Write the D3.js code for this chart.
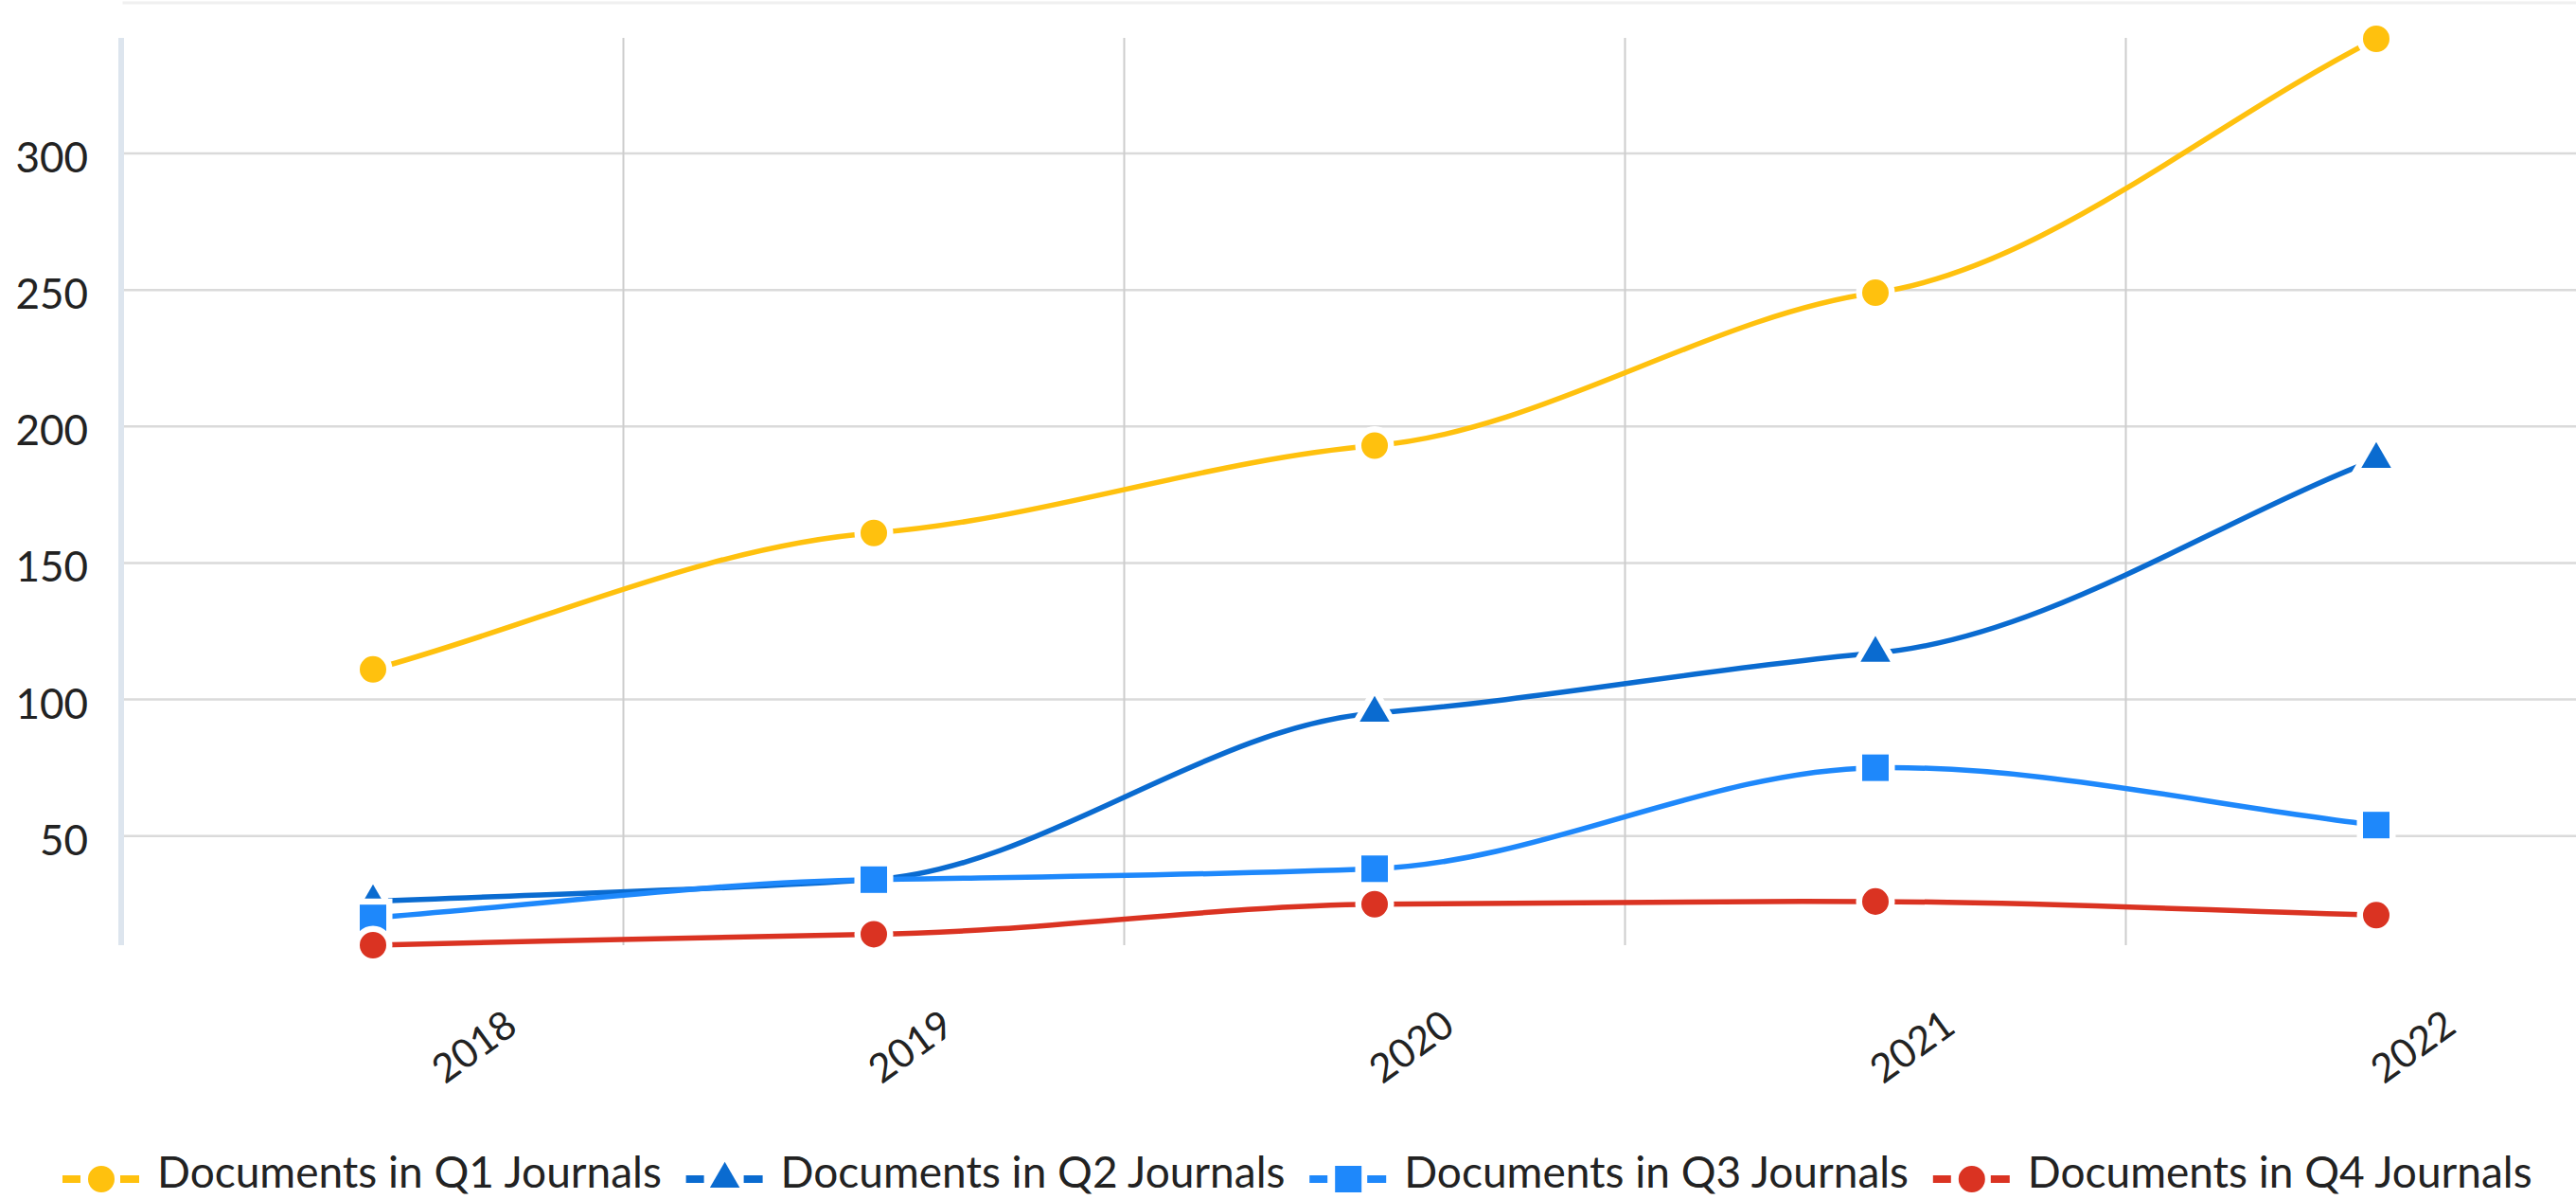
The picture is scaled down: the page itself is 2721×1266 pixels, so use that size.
<!DOCTYPE html>
<html>
<head>
<meta charset="utf-8">
<script src="https://cdn.jsdelivr.net/npm/d3@7"></script>
<style>
  html, body { margin: 0; padding: 0; background: #ffffff; }
  svg { display: block; font-family: Lato, "Open Sans", sans-serif; }
</style>
</head>
<body>
<svg id="chart" width="2721" height="1266"></svg>
<script>

// values
var years = [ "2018", "2019", "2020", "2021", "2022" ];
var q1Docs = [ 111, 161, 193, 249, 342 ];
var q2Docs = [ 26, 34, 95, 117, 188 ];
var q3Docs = [ 20, 34, 38, 75, 54 ];
var q4Docs = [ 10, 14, 25, 26, 21 ];
var yTicks = [ 50, 100, 150, 200, 250, 300 ];
var seriesNames = [ "Documents in Q1 Journals", "Documents in Q2 Journals",
                    "Documents in Q3 Journals", "Documents in Q4 Journals" ];

var colors = [ "#ffc10e", "#0a6bd0", "#1e88fb", "#da3322" ];
var shapes = [ d3.symbolCircle, d3.symbolTriangle, d3.symbolSquare, d3.symbolCircle ];
var sizes  = [ 616, 430, 784, 616 ];

var series = [ q1Docs, q2Docs, q3Docs, q4Docs ].map( function( vals, i ) {
    return { name: seriesNames[i], color: colors[i], shape: shapes[i], size: sizes[i],
             values: vals.map( function( v, j ) { return { year: years[j], value: v }; }) };
});

// soft spline: flattened tangents at inner points, chord slope at the ends
var SMOOTH = 0.35;
function SoftCurve( context ) { this._context = context; }
SoftCurve.prototype = {
    areaStart: function() {}, areaEnd: function() {},
    lineStart: function() { this._pts = []; },
    point: function( x, y ) { this._pts.push( [ x, y ] ); },
    lineEnd: function() {
        var p = this._pts, n = p.length, ctx = this._context, m = [];
        if ( !n ) return;
        for ( var i = 0; i < n; i++ ) {
            if ( n == 1 ) { m.push( 0 ); }
            else if ( i == 0 ) { m.push( ( p[1][1] - p[0][1] ) / ( p[1][0] - p[0][0] ) ); }
            else if ( i == n - 1 ) { m.push( ( p[i][1] - p[i-1][1] ) / ( p[i][0] - p[i-1][0] ) ); }
            else { m.push( SMOOTH * ( p[i+1][1] - p[i-1][1] ) / ( p[i+1][0] - p[i-1][0] ) ); }
        }
        ctx.moveTo( p[0][0], p[0][1] );
        for ( var j = 0; j < n - 1; j++ ) {
            var dx = ( p[j+1][0] - p[j][0] ) / 3;
            ctx.bezierCurveTo( p[j][0] + dx, p[j][1] + m[j] * dx,
                               p[j+1][0] - dx, p[j+1][1] - m[j+1] * dx,
                               p[j+1][0], p[j+1][1] );
        }
    }
};
var softCurve = function( context ) { return new SoftCurve( context ); };

var svg = d3.select( "#chart" );
var plotLeft = 129.5, plotTop = 41, plotBottom = 998;
var band = 529;

var x = d3.scaleBand()
    .domain( years )
    .range( [ plotLeft, plotLeft + band * years.length ] )
    .padding( 0 );
var y = d3.scaleLinear()
    .domain( [ d3.min( q4Docs ), d3.max( q1Docs ) ] )
    .range( [ plotBottom, plotTop ] );
var cx = function( yr ) { return x( yr ) + x.bandwidth() / 2; };

// faint frame line at the very top
svg.append( "line" )
    .attr( "x1", plotLeft ).attr( "x2", 2721 )
    .attr( "y1", 3 ).attr( "y2", 3 )
    .attr( "stroke", "#f0f0f0" ).attr( "stroke-width", 3 );

// horizontal grid
svg.append( "g" )
    .selectAll( "line" )
    .data( yTicks )
    .join( "line" )
    .attr( "x1", plotLeft ).attr( "x2", 2721 )
    .attr( "y1", function( d ) { return y( d ); })
    .attr( "y2", function( d ) { return y( d ); })
    .attr( "stroke", "#dadada" )
    .attr( "stroke-width", 2.5 );

// vertical grid on band boundaries
svg.append( "g" )
    .selectAll( "line" )
    .data( years.slice( 1 ) )
    .join( "line" )
    .attr( "x1", function( d ) { return x( d ); })
    .attr( "x2", function( d ) { return x( d ); })
    .attr( "y1", plotTop - 1 ).attr( "y2", plotBottom )
    .attr( "stroke", "#cdcdcd" )
    .attr( "stroke-width", 2 );

// y axis line
svg.append( "line" )
    .attr( "x1", 128 ).attr( "x2", 128 )
    .attr( "y1", plotTop - 1 ).attr( "y2", plotBottom )
    .attr( "stroke", "#dde5ee" )
    .attr( "stroke-width", 6 );

// y labels
svg.append( "g" )
    .selectAll( "text" )
    .data( yTicks )
    .join( "text" )
    .text( function( d ) { return d; })
    .attr( "x", 93 )
    .attr( "y", function( d ) { return y( d ) + 3; })
    .attr( "text-anchor", "end" )
    .attr( "dominant-baseline", "central" )
    .style( "font-size", "44px" )
    .style( "fill", "#222" );

// x labels, rotated; the first one sits a bit further right
svg.append( "g" )
    .selectAll( "text" )
    .data( years )
    .join( "text" )
    .text( function( d ) { return d; })
    .attr( "transform", function( d, i ) {
        var shift = i == 0 ? 106 : 38;
        return "translate(" + ( cx( d ) + shift ) + ",1104) rotate(-36)";
    })
    .attr( "text-anchor", "middle" )
    .attr( "dominant-baseline", "central" )
    .style( "font-size", "42px" )
    .style( "fill", "#222" );

var line = d3.line()
    .x( function( d ) { return cx( d.year ); })
    .y( function( d ) { return y( d.value ); })
    .curve( softCurve );

series.forEach( function( s ) {
    var g = svg.append( "g" );
    g.append( "path" )
        .attr( "d", line( s.values ) )
        .attr( "fill", "none" )
        .attr( "stroke", s.color )
        .attr( "stroke-width", 5.5 );
    g.selectAll( "path.mark" )
        .data( s.values )
        .join( "path" )
        .attr( "class", "mark" )
        .attr( "d", d3.symbol( s.shape, s.size ) )
        .attr( "transform", function( d ) { return "translate(" + cx( d.year ) + "," + y( d.value ) + ")"; })
        .attr( "fill", s.color )
        .attr( "stroke", "#ffffff" )
        .attr( "stroke-width", 13 )
        .attr( "paint-order", "stroke" );
});

// legend
var legendY = 1245, pitch = 658.6;
var items = svg.append( "g" )
    .selectAll( "g" )
    .data( series )
    .join( "g" )
    .attr( "transform", function( d, i ) { return "translate(" + ( 66 + i * pitch ) + "," + legendY + ")"; });
items.append( "line" )
    .attr( "x1", 0 ).attr( "x2", 19 )
    .attr( "stroke", function( d ) { return d.color; })
    .attr( "stroke-width", 8 );
items.append( "line" )
    .attr( "x1", 61 ).attr( "x2", 81 )
    .attr( "stroke", function( d ) { return d.color; })
    .attr( "stroke-width", 8 );
items.append( "path" )
    .attr( "d", function( d ) { return d3.symbol( d.shape, d.size )(); })
    .attr( "transform", "translate(41,0)" )
    .attr( "fill", function( d ) { return d.color; });
items.append( "text" )
    .text( function( d ) { return d.name; })
    .attr( "x", 100 )
    .attr( "y", -9 )
    .attr( "dominant-baseline", "central" )
    .style( "font-size", "46px" )
    .style( "fill", "#222" );

</script>
</body>
</html>
